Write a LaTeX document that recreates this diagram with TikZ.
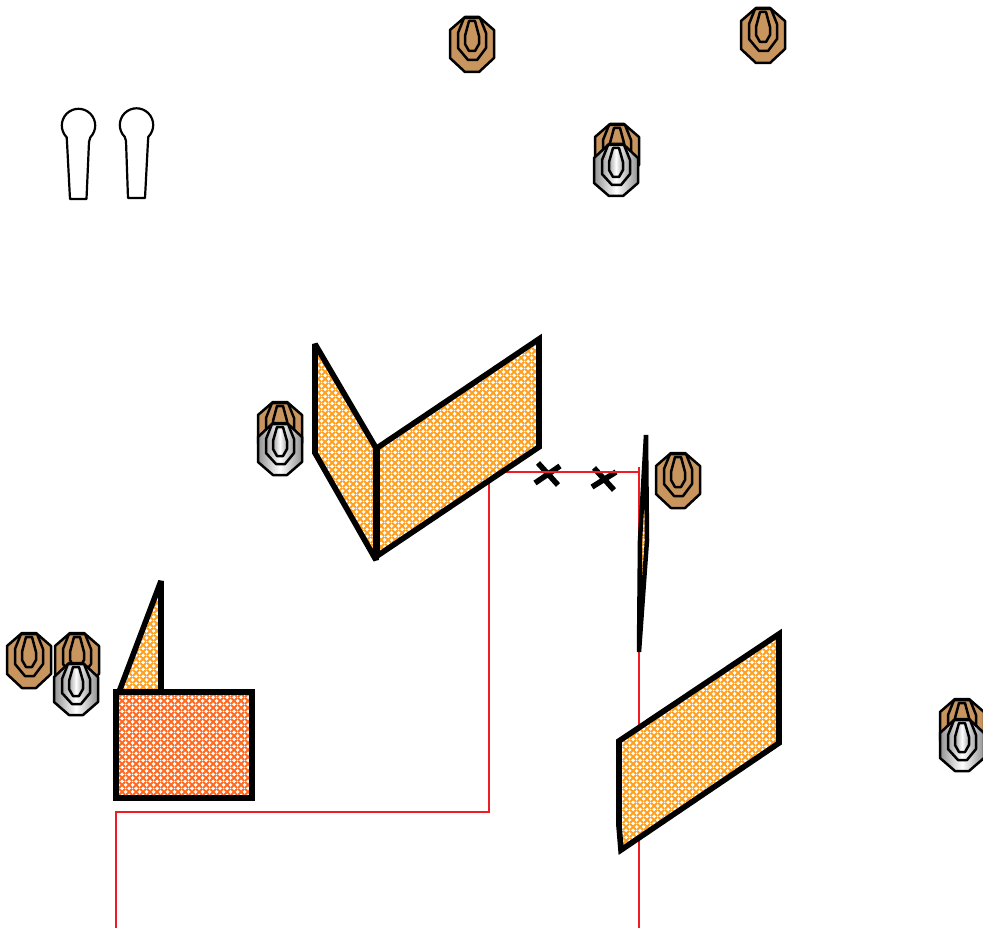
\documentclass[tikz,border=0pt]{standalone}
\usetikzlibrary{patterns}
\pgfdeclarepatternformonly{lattice}{\pgfpointorigin}{\pgfqpoint{7pt}{7pt}}{\pgfqpoint{7pt}{7pt}}{%
  \pgfsetlinewidth{2.2pt}%
  \pgfpathmoveto{\pgfqpoint{0pt}{0pt}}\pgfpathlineto{\pgfqpoint{7pt}{7pt}}%
  \pgfpathmoveto{\pgfqpoint{0pt}{7pt}}\pgfpathlineto{\pgfqpoint{7pt}{0pt}}%
  \pgfusepath{stroke}%
}
\definecolor{brownT}{HTML}{C8955F}
\definecolor{panelO}{HTML}{FFA020}
\definecolor{boxO}{HTML}{FF6A20}
\definecolor{wire}{HTML}{F01C24}
\newcommand{\panelshape}[3][]{%
  \fill[white] #3;
  \fill[pattern=lattice,pattern color=#2] #3;
  \draw[outline,#1] #3;
}
\tikzset{
  outline/.style={draw=black,line width=5.6pt,line join=miter,miter limit=3},
  wireline/.style={draw=wire,line width=2.3pt},
  crossline/.style={draw=black,line width=5.5pt},
  contour/.style={draw=black,line width=2.5pt,line join=round},
  key/.style={draw=black,line width=2.2pt,fill=white,line join=round},
  pics/browntarget/.style={code={
    \path[contour,fill=brownT] (-7,-27)--(7,-27)--(22,-14)--(22,14)--(7,28)--(-7,28)--(-22,14)--(-22,-14)--cycle;
    \path[contour] (-8,-26)--(8,-26)--(14,-11)--(14,4)--(5,16)--(-4,16)--(-14,4)--(-14,-11)--cycle;
    \path[contour] (-3,-23)--(3,-23)--(7,-8)--(7,0)--(3,7)--(-3,7)--(-7,0)--(-7,-8)--cycle;
  }},
  pics/greytarget/.style={code={
    \path[contour,left color=gray!85,right color=gray!85,middle color=white] (-7,-26)--(7,-26)--(22,-12)--(22,13)--(7,26)--(-7,26)--(-22,13)--(-22,-12)--cycle;
    \path[contour,left color=gray!70,right color=gray!70,middle color=white] (-8,-25)--(8,-25)--(14,-10)--(14,4)--(5,15)--(-4,15)--(-14,4)--(-14,-10)--cycle;
    \path[contour,left color=gray!70,right color=gray!70,middle color=white] (-3,-22)--(3,-22)--(7,-8)--(7,0)--(3,7)--(-3,7)--(-7,0)--(-7,-8)--cycle;
  }},
}
\begin{document}
\begin{tikzpicture}[x=1pt,y=-1pt]
\useasboundingbox[fill=white] (0,0) rectangle (983,928);

% crosses
\draw[crossline] (535,483)--(560,466) (538,463)--(558,485);
\draw[crossline] (592,487)--(616,472) (594,468)--(614,490);

% connectors
\coordinate (w1) at (116,928);
\coordinate (w2) at (116,812);
\coordinate (w3) at (489.2,812);
\coordinate (w4) at (489.2,480);
\coordinate (w5) at (505,472);
\coordinate (w6) at (639.3,472);
\coordinate (w7) at (639.3,928);
\coordinate (w8) at (639.3,467);
\draw[wireline] (w1)--(w2)--(w3)--(w4);
\draw[wireline] (w5)--(w6) (w8)--(w7);

% keyholes
\path[key] (70,199)--(67,142)--(66.7,137.3) arc[start angle=135,end angle=405,radius=16.7] --(89,142)--(86.5,199)--cycle;
\path[key] (128,198)--(126,141)--(124.7,136.8) arc[start angle=135,end angle=405,radius=16.7] --(148,141)--(145,198)--cycle;

% panels
\panelshape{panelO}{(315,344)--(376,448)--(376,560)--(315,453)--cycle}
\panelshape{panelO}{(377,448)--(539,339)--(539,447)--(377,556)--cycle}
\panelshape[line width=4.5pt]{panelO}{(646,435)--(647,540)--(639,652)--(640,540)--cycle}
\panelshape{panelO}{(161,581)--(161,692)--(119,692)--cycle}
\panelshape{panelO}{(619,741)--(779,634)--(779,743)--(621,850)--(619,826)--cycle}
\panelshape[line width=6.4pt]{boxO}{(116,692)--(252,692)--(252,798)--(116,798)--cycle}

% targets
\pic at (472,44) {browntarget};
\pic at (763,35) {browntarget};
\pic at (678,480) {browntarget};
\pic at (29,660) {browntarget};
\pic at (617,151) {browntarget};
\pic at (616,170) {greytarget};
\pic at (280,429) {browntarget};
\pic at (280,449) {greytarget};
\pic at (77,660) {browntarget};
\pic at (76,689) {greytarget};
\pic at (962,726) {browntarget};
\pic at (962,745) {greytarget};
\end{tikzpicture}
\end{document}
